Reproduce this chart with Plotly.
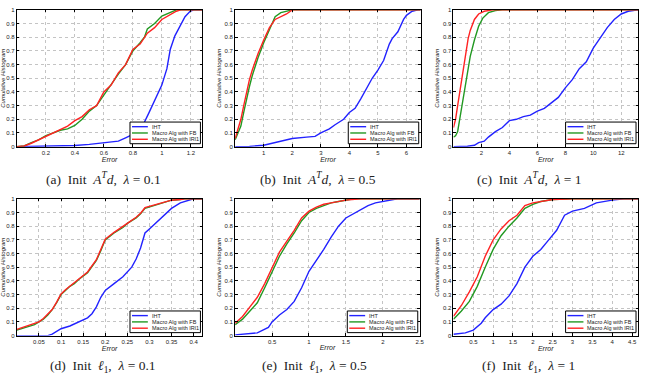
import plotly.graph_objects as go

W, H = 645, 374

# ---------------- data ----------------
series_names = ["IHT", "Macro Alg with FB", "Macro Alg with IRl1"]
y_tick_vals = [0, 0.1, 0.2, 0.3, 0.4, 0.5, 0.6, 0.7, 0.8, 0.9, 1]
y_tick_text = ["0", "0.1", "0.2", "0.3", "0.4", "0.5", "0.6", "0.7", "0.8", "0.9", "1"]

# (a) Init A^T d, lambda = 0.1
a_iht_x = [0, 0.2, 0.4, 0.5, 0.6, 0.7, 0.75, 0.8, 0.84, 0.88, 0.91, 0.955, 1.0, 1.035, 1.058, 1.09, 1.127, 1.16, 1.195, 1.22, 1.28]
a_iht_y = [0, 0.003, 0.008, 0.017, 0.03, 0.04, 0.065, 0.09, 0.12, 0.18, 0.245, 0.35, 0.45, 0.57, 0.71, 0.81, 0.88, 0.95, 0.99, 1.0, 1.0]
a_fb_x = [0, 0.05, 0.1, 0.15, 0.2, 0.25, 0.3, 0.35, 0.4, 0.45, 0.5, 0.55, 0.6, 0.65, 0.7, 0.75, 0.8, 0.85, 0.88, 0.9, 0.95, 1.0, 1.05, 1.1, 1.28]
a_fb_y = [0, 0.005, 0.03, 0.05, 0.08, 0.1, 0.12, 0.13, 0.155, 0.2, 0.26, 0.3, 0.38, 0.45, 0.53, 0.6, 0.7, 0.76, 0.8, 0.86, 0.9, 0.955, 0.98, 1.0, 1.0]
a_ir_x = [0, 0.05, 0.1, 0.15, 0.2, 0.25, 0.3, 0.35, 0.4, 0.45, 0.5, 0.55, 0.6, 0.65, 0.7, 0.75, 0.8, 0.85, 0.9, 0.95, 1.0, 1.05, 1.1, 1.13, 1.28]
a_ir_y = [0, 0.005, 0.025, 0.05, 0.08, 0.1, 0.13, 0.15, 0.19, 0.22, 0.27, 0.3, 0.4, 0.45, 0.54, 0.6, 0.71, 0.75, 0.83, 0.87, 0.93, 0.96, 0.99, 1.0, 1.0]

# (b) Init A^T d, lambda = 0.5
b_iht_x = [0, 0.5, 1.0, 1.2, 1.5, 1.8, 2.0, 2.5, 2.8, 3.0, 3.3, 3.5, 3.8, 4.0, 4.2, 4.4, 4.6, 4.8, 5.0, 5.2, 5.4, 5.5, 5.7, 5.9, 6.0, 6.2, 6.4, 6.5]
b_iht_y = [0, 0.002, 0.01, 0.02, 0.035, 0.05, 0.06, 0.07, 0.075, 0.1, 0.13, 0.16, 0.2, 0.25, 0.28, 0.35, 0.43, 0.5, 0.56, 0.63, 0.75, 0.79, 0.84, 0.93, 0.96, 0.99, 1.0, 1.0]
b_fb_x = [0, 0.1, 0.2, 0.3, 0.4, 0.5, 0.6, 0.8, 1.0, 1.2, 1.4, 1.6, 1.8, 2.0, 6.5]
b_fb_y = [0.05, 0.1, 0.15, 0.25, 0.35, 0.44, 0.52, 0.65, 0.76, 0.86, 0.95, 0.98, 0.99, 1.0, 1.0]
b_ir_x = [0, 0.1, 0.2, 0.3, 0.4, 0.5, 0.6, 0.8, 1.0, 1.2, 1.4, 1.6, 1.8, 2.0, 6.5]
b_ir_y = [0.06, 0.13, 0.2, 0.3, 0.4, 0.49, 0.56, 0.68, 0.78, 0.87, 0.93, 0.95, 0.97, 1.0, 1.0]

# (c) Init A^T d, lambda = 1
c_iht_x = [0, 1.0, 1.5, 1.8, 2.2, 2.5, 3.0, 3.5, 4.0, 4.5, 5.0, 5.5, 6.0, 6.5, 7.0, 7.5, 8.0, 8.5, 9.0, 9.5, 10.0, 10.5, 11.0, 11.5, 12.0, 12.5, 13.0, 13.2]
c_iht_y = [0, 0.003, 0.01, 0.03, 0.04, 0.07, 0.11, 0.14, 0.19, 0.2, 0.22, 0.23, 0.26, 0.28, 0.32, 0.36, 0.43, 0.49, 0.57, 0.62, 0.72, 0.8, 0.87, 0.93, 0.97, 0.99, 1.0, 1.0]
c_fb_x = [0, 0.15, 0.3, 0.45, 0.6, 0.75, 0.9, 1.05, 1.2, 1.5, 1.8, 2.1, 2.5, 3.0, 3.5, 13.2]
c_fb_y = [0.07, 0.08, 0.11, 0.2, 0.3, 0.41, 0.5, 0.59, 0.66, 0.78, 0.88, 0.94, 0.98, 0.995, 1.0, 1.0]
c_ir_x = [0, 0.15, 0.3, 0.45, 0.6, 0.75, 0.9, 1.05, 1.2, 1.5, 1.8, 2.2, 2.8, 13.2]
c_ir_y = [0.14, 0.2, 0.3, 0.4, 0.5, 0.62, 0.72, 0.79, 0.85, 0.93, 0.97, 0.99, 1.0, 1.0]

# (d) Init l1, lambda = 0.1
d_iht_x = [0, 0.07, 0.08, 0.09, 0.1, 0.12, 0.14, 0.16, 0.17, 0.18, 0.19, 0.2, 0.22, 0.24, 0.26, 0.27, 0.28, 0.29, 0.3, 0.32, 0.34, 0.35, 0.37, 0.39, 0.4, 0.42]
d_iht_y = [0, 0, 0.01, 0.03, 0.05, 0.07, 0.1, 0.13, 0.16, 0.21, 0.28, 0.33, 0.38, 0.43, 0.5, 0.56, 0.64, 0.75, 0.78, 0.84, 0.9, 0.93, 0.97, 0.99, 1.0, 1.0]
d_fb_x = [0, 0.02, 0.04, 0.05, 0.06, 0.07, 0.08, 0.09, 0.1, 0.11, 0.12, 0.13, 0.14, 0.16, 0.18, 0.19, 0.2, 0.22, 0.24, 0.25, 0.27, 0.28, 0.29, 0.31, 0.33, 0.35, 0.37, 0.38, 0.42]
d_fb_y = [0.04, 0.06, 0.08, 0.1, 0.12, 0.15, 0.19, 0.24, 0.3, 0.33, 0.36, 0.38, 0.41, 0.46, 0.55, 0.62, 0.7, 0.75, 0.79, 0.82, 0.86, 0.89, 0.93, 0.95, 0.97, 0.99, 0.995, 1.0, 1.0]
d_ir_x = [0, 0.02, 0.04, 0.05, 0.06, 0.07, 0.08, 0.09, 0.1, 0.11, 0.12, 0.13, 0.14, 0.16, 0.18, 0.19, 0.2, 0.22, 0.24, 0.25, 0.27, 0.28, 0.29, 0.31, 0.33, 0.35, 0.37, 0.38, 0.42]
d_ir_y = [0.045, 0.065, 0.085, 0.1, 0.125, 0.155, 0.19, 0.245, 0.305, 0.335, 0.36, 0.385, 0.415, 0.465, 0.555, 0.625, 0.705, 0.755, 0.795, 0.82, 0.865, 0.895, 0.935, 0.955, 0.97, 0.99, 0.995, 1.0, 1.0]

# (e) Init l1, lambda = 0.5
e_iht_x = [0, 0.3, 0.45, 0.5, 0.6, 0.7, 0.8, 0.9, 1.0, 1.1, 1.2, 1.3, 1.4, 1.5, 1.6, 1.7, 1.8, 1.9, 2.0, 2.1, 2.2, 2.5]
e_iht_y = [0.005, 0.02, 0.06, 0.1, 0.15, 0.19, 0.25, 0.35, 0.47, 0.55, 0.63, 0.72, 0.8, 0.86, 0.89, 0.92, 0.95, 0.97, 0.98, 0.99, 1.0, 1.0]
e_fb_x = [0, 0.1, 0.2, 0.3, 0.4, 0.5, 0.6, 0.7, 0.8, 0.9, 1.0, 1.1, 1.2, 1.3, 1.4, 1.5, 1.6, 2.5]
e_fb_y = [0.08, 0.12, 0.18, 0.24, 0.35, 0.47, 0.58, 0.67, 0.75, 0.84, 0.9, 0.93, 0.95, 0.97, 0.98, 0.99, 1.0, 1.0]
e_ir_x = [0, 0.1, 0.2, 0.3, 0.4, 0.5, 0.6, 0.7, 0.8, 0.9, 1.0, 1.1, 1.2, 1.3, 1.4, 1.5, 1.7, 2.5]
e_ir_y = [0.09, 0.14, 0.21, 0.28, 0.38, 0.5, 0.61, 0.69, 0.77, 0.86, 0.91, 0.94, 0.96, 0.97, 0.98, 0.99, 1.0, 1.0]

# (f) Init l1, lambda = 1
f_iht_x = [0, 0.3, 0.5, 0.7, 0.8, 1.0, 1.2, 1.4, 1.6, 1.8, 2.0, 2.2, 2.4, 2.6, 2.8, 3.0, 3.3, 3.6, 4.0, 4.3, 4.65]
f_iht_y = [0.01, 0.02, 0.04, 0.09, 0.13, 0.19, 0.23, 0.29, 0.38, 0.5, 0.58, 0.63, 0.7, 0.77, 0.88, 0.91, 0.93, 0.97, 0.99, 1.0, 1.0]
f_fb_x = [0, 0.2, 0.4, 0.6, 0.8, 1.0, 1.2, 1.4, 1.6, 1.8, 2.0, 2.2, 2.5, 3.0, 4.65]
f_fb_y = [0.12, 0.18, 0.25, 0.36, 0.5, 0.63, 0.73, 0.8, 0.86, 0.93, 0.96, 0.98, 0.995, 1.0, 1.0]
f_ir_x = [0, 0.2, 0.4, 0.6, 0.8, 1.0, 1.2, 1.4, 1.6, 1.8, 2.0, 2.2, 2.5, 3.0, 4.65]
f_ir_y = [0.14, 0.22, 0.32, 0.43, 0.58, 0.7, 0.78, 0.84, 0.88, 0.95, 0.97, 0.98, 0.995, 1.0, 1.0]

x_ranges = [[0, 1.28], [0, 6.5], [0, 13.2], [0, 0.42], [0, 2.5], [0, 4.65]]
x_ticks = [
    [0.2, 0.4, 0.6, 0.8, 1, 1.2],
    [1, 2, 3, 4, 5, 6],
    [2, 4, 6, 8, 10, 12],
    [0.05, 0.1, 0.15, 0.2, 0.25, 0.3, 0.35, 0.4],
    [0.5, 1, 1.5, 2, 2.5],
    [0.5, 1, 1.5, 2, 2.5, 3, 3.5, 4, 4.5],
]
captions = [
    "(a)  Init  <i>A</i><sup><i>T</i></sup><i>d</i>,  <i>λ</i> = 0.1",
    "(b)  Init  <i>A</i><sup><i>T</i></sup><i>d</i>,  <i>λ</i> = 0.5",
    "(c)  Init  <i>A</i><sup><i>T</i></sup><i>d</i>,  <i>λ</i> = 1",
    "(d)  Init  <i>ℓ</i><sub>1</sub>,  <i>λ</i> = 0.1",
    "(e)  Init  <i>ℓ</i><sub>1</sub>,  <i>λ</i> = 0.5",
    "(f)  Init  <i>ℓ</i><sub>1</sub>,  <i>λ</i> = 1",
]

panel_data = [
    [(a_iht_x, a_iht_y), (a_fb_x, a_fb_y), (a_ir_x, a_ir_y)],
    [(b_iht_x, b_iht_y), (b_fb_x, b_fb_y), (b_ir_x, b_ir_y)],
    [(c_iht_x, c_iht_y), (c_fb_x, c_fb_y), (c_ir_x, c_ir_y)],
    [(d_iht_x, d_iht_y), (d_fb_x, d_fb_y), (d_ir_x, d_ir_y)],
    [(e_iht_x, e_iht_y), (e_fb_x, e_fb_y), (e_ir_x, e_ir_y)],
    [(f_iht_x, f_iht_y), (f_fb_x, f_fb_y), (f_ir_x, f_ir_y)],
]

# ---------------- styling / layout ----------------
colors = ["#2222ff", "#229922", "#ff2222"]
# panel pixel boxes: (left, right, top, bottom)
boxes = [
    (17, 204, 7, 146), (237, 424, 7, 146), (457, 643, 7, 146),
    (17, 204, 199, 338), (237, 423, 199, 338), (457, 643, 199, 338),
]
caption_cx = [104, 320, 534, 104, 317, 533]
caption_cy = [178, 178, 178, 369, 369, 369]

def px(x):
    return x / W

def py(y):
    return 1 - y / H

fig = go.Figure()
layout = dict(
    width=W, height=H, margin=dict(l=0, r=0, t=0, b=0),
    paper_bgcolor="white", plot_bgcolor="white", showlegend=False,
    font=dict(family="Liberation Sans, Arial, sans-serif", size=6, color="#222"),
)
annotations = []
shapes = []

for i in range(6):
    k = "" if i == 0 else str(i + 1)
    xa, ya = "x" + k, "y" + k
    l, r, t, b = boxes[i]
    for j in range(3):
        xs, ys = panel_data[i][j]
        fig.add_trace(go.Scatter(x=xs, y=ys, mode="lines", name=series_names[j],
                                 line=dict(color=colors[j], width=1.4),
                                 xaxis=xa, yaxis=ya, hoverinfo="skip"))
    common = dict(showline=True, mirror="allticks", linecolor="black", linewidth=1,
                  ticks="inside", ticklen=2.5, tickcolor="black", tickwidth=0.8,
                  showgrid=True, gridcolor="#c4c4c4", griddash="dot", gridwidth=0.6,
                  zeroline=False, tickfont=dict(size=6, color="#222"))
    layout["xaxis" + k] = dict(common, domain=[px(l), px(r)], anchor=ya,
                               range=x_ranges[i], tickvals=x_ticks[i],
                               title=dict(text="Error", standoff=1,
                                          font=dict(size=7, color="#222", style="italic")))
    layout["yaxis" + k] = dict(common, domain=[py(b), py(t)], anchor=xa,
                               range=[0, 1], tickvals=y_tick_vals, ticktext=y_tick_text,
                               title=dict(text="Cumulative Histogram", standoff=2,
                                          font=dict(size=6, color="#222", style="italic")))
    # caption
    annotations.append(dict(x=px(caption_cx[i]), y=py(caption_cy[i]), xref="paper", yref="paper",
                            text=captions[i], showarrow=False, xanchor="center", yanchor="middle",
                            font=dict(family="Liberation Serif, DejaVu Serif, serif", size=13.5, color="#222")))
    # legend box (drawn like the MATLAB legend)
    lw, lh = 71, 22
    lx1, ly1 = r - 2, b - 3
    lx0, ly0 = lx1 - lw, ly1 - lh
    shapes.append(dict(type="rect", xref="paper", yref="paper",
                       x0=px(lx0), x1=px(lx1), y0=py(ly1), y1=py(ly0),
                       line=dict(color="black", width=1), fillcolor="white", layer="above"))
    for j in range(3):
        yy = ly0 + 4.7 + j * 6.4
        shapes.append(dict(type="line", xref="paper", yref="paper",
                           x0=px(lx0 + 2), x1=px(lx0 + 18), y0=py(yy), y1=py(yy),
                           line=dict(color=colors[j], width=1.4), layer="above"))
        annotations.append(dict(x=px(lx0 + 20), y=py(yy), xref="paper", yref="paper",
                                text=series_names[j], showarrow=False, xanchor="left", yanchor="middle",
                                font=dict(size=5.5, color="#222")))

layout["annotations"] = annotations
layout["shapes"] = shapes
fig.update_layout(**layout)
fig.write_html("out.html")
